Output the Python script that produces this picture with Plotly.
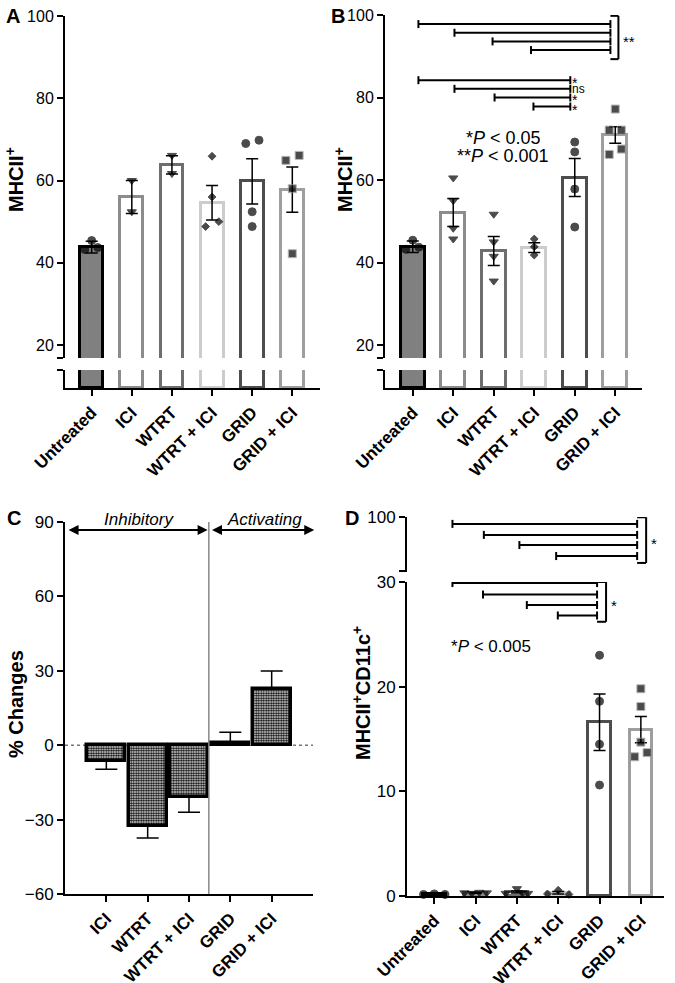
import plotly.graph_objects as go

W, H = 675, 983
FONT = "Liberation Sans, Arial, sans-serif"

groups = ["Untreated", "ICI", "WTRT", "WTRT + ICI", "GRID", "GRID + ICI"]
fills = ["#808080", "white", "white", "white", "white", "white"]
edges = ["#000000", "#8c8c8c", "#6e6e6e", "#cccccc", "#4d4d4d", "#9e9e9e"]
symbols = ["circle", "triangle-down", "triangle-down", "diamond", "circle", "square"]

# Panel A: MHCII+
a_mean = [43.8, 56.0, 63.8, 54.6, 59.8, 57.8]
a_sem = [1.4, 4.0, 2.2, 4.2, 5.5, 5.5]
a_points = [[45.4, 43.2, 43.7], [60.0, 52.4], [66.1, 61.7],
            [65.9, 56.0, 48.8, 50.0], [69.0, 69.8, 52.4, 48.8], [64.9, 66.1, 58.0, 42.2]]

# Panel B: MHCII+
b_mean = [43.8, 52.1, 42.8, 43.6, 60.6, 70.9]
b_sem = [1.4, 3.4, 3.5, 1.2, 4.6, 2.0]
b_points = [[45.4, 43.2, 43.7], [60.5, 55.0, 48.3, 45.7], [51.7, 45.0, 41.5, 35.5],
            [45.7, 43.8, 41.8], [69.2, 66.8, 57.8, 48.6], [77.2, 72.1, 72.1, 67.5, 66.2]]

# Panel C: % changes
c_groups = ["ICI", "WTRT", "WTRT + ICI", "GRID", "GRID + ICI"]
c_change = [-6.5, -32.6, -20.9, 1.0, 22.6]
c_err = [3.2, 4.8, 6.1, 4.2, 7.3]

# Panel D: MHCII+CD11c+
d_mean = [0.17, 0.3, 0.38, 0.3, 16.6, 15.9]
d_sem = [0.03, 0.03, 0.1, 0.12, 2.7, 1.25]
d_points = [[0.15, 0.2, 0.15], [0.3, 0.25, 0.35, 0.3], [0.25, 0.7, 0.3, 0.25],
            [0.2, 0.55, 0.15], [23.0, 18.6, 14.5, 10.6], [19.8, 18.1, 14.7, 13.7, 13.3]]

# horizontal spread of the dots inside each bar
a_jitter = [[0, -0.17, 0.15], [0, 0], [0, 0], [0, 0, -0.16, 0.17],
            [-0.16, 0.17, 0, 0], [-0.16, 0.17, 0, 0]]
b_jitter = [[0, -0.17, 0.15], [0, 0, 0, 0], [0, 0, 0, 0], [0, 0, 0],
            [0, 0, 0, 0], [0, -0.15, 0.15, 0.15, -0.15]]
d_jitter = [[-0.26, 0, 0.26], [-0.27, -0.09, 0.09, 0.27], [-0.27, 0, 0.13, 0.27],
            [-0.26, 0, 0.26], [0, 0, 0, 0], [0, 0, 0, 0.15, -0.15]]

# significance comparisons: line start x and level, shared end x
b_hi_start = [0.14, 1.03, 1.97, 2.92]
b_hi_level = [97.8, 95.7, 93.6, 91.5]
b_lo_start = [0.14, 1.03, 2.02, 2.98]
b_lo_level = [84.2, 82.1, 80.0, 77.8]
b_lo_labels = ["*", "ns", "*", "*"]
d_hi_start = [0.44, 1.2, 2.06, 2.95]
d_hi_level = [97.5, 93.5, 89.8, 85.8]
d_lo_start = [0.44, 1.18, 2.24, 2.99]
d_lo_level = [29.9, 28.8, 27.8, 26.8]

fig = go.Figure()


def dom_x(a, b):
    return [a / W, b / W]


def dom_y(top, bot):
    return [1 - bot / H, 1 - top / H]


def add_bars(xa, ya, means, sems, width, show_err=True):
    fig.add_trace(go.Bar(
        x=list(range(len(means))), y=means, width=width, xaxis=xa, yaxis=ya,
        marker=dict(color=fills, line=dict(color=edges, width=3)),
        error_y=dict(type="data", array=sems, visible=show_err, color="black",
                     thickness=1.5, width=6),
        showlegend=False, hoverinfo="skip"))


def add_dots(xa, ya, points, jitter):
    xs, ys, syms, sizes, lines = [], [], [], [], []
    size_of = {"circle": 8, "triangle-down": 8, "diamond": 6, "square": 8}
    for i, (pts, jit) in enumerate(zip(points, jitter)):
        for v, j in zip(pts, jit):
            xs.append(i + j)
            ys.append(v)
            syms.append(symbols[i])
            sizes.append(size_of[symbols[i]])
            lines.append("#999999" if symbols[i] == "square" else "black")
    fig.add_trace(go.Scatter(
        x=xs, y=ys, mode="markers", xaxis=xa, yaxis=ya, cliponaxis=False,
        marker=dict(symbol=syms, size=sizes, color="black", line=dict(color=lines, width=1)),
        showlegend=False, hoverinfo="skip"))


# A
add_bars("x", "y", a_mean, a_sem, 0.57)
add_bars("x", "y2", a_mean, a_sem, 0.57, show_err=False)
add_dots("x", "y", a_points, a_jitter)
# B
add_bars("x2", "y3", b_mean, b_sem, 0.59)
add_bars("x2", "y4", b_mean, b_sem, 0.59, show_err=False)
add_dots("x2", "y3", b_points, b_jitter)
# C
fig.add_trace(go.Bar(
    x=list(range(len(c_groups))), y=c_change, width=0.92, xaxis="x3", yaxis="y5",
    marker=dict(color="white", line=dict(color="black", width=3.5),
                pattern=dict(shape=".", size=2.5, solidity=0.65, fgcolor="black",
                             bgcolor="white", fillmode="replace")),
    error_y=dict(type="data", symmetric=False,
                 array=[e if v > 0 else 0 for v, e in zip(c_change, c_err)],
                 arrayminus=[e if v < 0 else 0 for v, e in zip(c_change, c_err)],
                 color="black", thickness=1.5, width=11),
    showlegend=False, hoverinfo="skip"))
# D
add_bars("x4", "y6", d_mean, d_sem, 0.55)
add_dots("x4", "y6", d_points, d_jitter)

tick_font = dict(family=FONT, size=16, color="black")
lab_font = dict(family=FONT, size=17, color="black", weight="bold")


def axis(**kw):
    d = dict(showline=True, linecolor="black", linewidth=2, ticks="outside", ticklen=6,
             tickwidth=2, tickcolor="black", showgrid=False, zeroline=False,
             tickfont=tick_font, fixedrange=True, automargin=False, ticklabeloverflow="allow")
    d.update(kw)
    return d


fig.update_layout(
    width=W, height=H, margin=dict(l=0, r=0, t=0, b=0, autoexpand=False),
    paper_bgcolor="white", plot_bgcolor="white", bargap=0,
    font=dict(family=FONT, color="black"),
    xaxis=axis(domain=dom_x(65, 320), range=[-0.665, 5.69], anchor="y2",
               tickvals=list(range(6)), ticktext=groups, tickangle=-45, tickfont=lab_font),
    yaxis=axis(domain=dom_y(16, 358), range=[16.84, 100], anchor="x",
               tickvals=[16.9, 20, 40, 60, 80, 100], ticktext=["", "20", "40", "60", "80", "100"]),
    yaxis2=axis(domain=dom_y(370, 388), range=[0, 4.37], anchor="x",
                tickvals=[4.3], ticktext=[""]),
    xaxis2=axis(domain=dom_x(385, 642), range=[-0.685, 5.66], anchor="y4",
                tickvals=list(range(6)), ticktext=groups, tickangle=-45, tickfont=lab_font),
    yaxis3=axis(domain=dom_y(15, 358), range=[16.85, 100], anchor="x2",
                tickvals=[16.9, 20, 40, 60, 80, 100], ticktext=["", "20", "40", "60", "80", "100"]),
    yaxis4=axis(domain=dom_y(370, 388), range=[0, 4.37], anchor="x2",
                tickvals=[4.3], ticktext=[""]),
    xaxis3=axis(domain=dom_x(65, 313), range=[-1, 5], anchor="y5",
                tickvals=list(range(5)), ticktext=c_groups, tickangle=-45, tickfont=lab_font),
    yaxis5=axis(domain=dom_y(522, 894), range=[-60, 90], anchor="x3",
                tickvals=[-60, -30, 0, 30, 60, 90], tickfont=dict(tick_font, size=17)),
    xaxis4=axis(domain=dom_x(407, 664), range=[-0.66, 5.56], anchor="y6",
                tickvals=list(range(6)), ticktext=groups, tickangle=-45, tickfont=lab_font),
    yaxis6=axis(domain=dom_y(582, 896), range=[0, 30], anchor="x4",
                tickvals=[0, 10, 20, 30], tickfont=dict(tick_font, size=17)),
    yaxis7=axis(domain=dom_y(517, 572), range=[80, 100], anchor="x4",
                tickvals=[80.4, 100], ticktext=["", "100"], tickfont=dict(tick_font, size=17)),
)

shapes = []
annots = []


def sig_group(xa, ya, starts, levels, end, span, tip_px, labels=None, group_label=None, label_y=None):
    for s, lv in zip(starts, levels):
        shapes.append(dict(type="line", xref=xa, yref=ya, x0=s, x1=end, y0=lv, y1=lv,
                           line=dict(color="black", width=2)))
        for xc in (s, end):
            shapes.append(dict(type="line", xref=xa, yref=ya, ysizemode="pixel", yanchor=lv,
                               x0=xc, x1=xc, y0=-4, y1=4, line=dict(color="black", width=2)))
    if labels:
        for lv, t in zip(levels, labels):
            annots.append(dict(xref=xa, yref=ya, x=end, y=lv, text=t, showarrow=False,
                               xanchor="left", yanchor="middle", xshift=1,
                               yshift=0 if t == "ns" else -3, borderpad=0,
                               font=dict(size=12 if t == "ns" else 14)))
    if span:
        shapes.append(dict(type="line", xref=xa, yref=ya, xsizemode="pixel", xanchor=end,
                           x0=tip_px, x1=tip_px, y0=span[0], y1=span[1],
                           line=dict(color="black", width=2)))
        for yv in span:
            shapes.append(dict(type="line", xref=xa, yref=ya, xsizemode="pixel", xanchor=end,
                               x0=0, x1=tip_px, y0=yv, y1=yv, line=dict(color="black", width=2)))
        annots.append(dict(xref=xa, yref=ya, x=end, y=label_y, text=group_label, showarrow=False,
                           xanchor="left", xshift=tip_px + 3, font=dict(size=15)))


sig_group("x2", "y3", b_hi_start, b_hi_level, 4.88, [89.3, 99.8], 8, group_label="**", label_y=93.6)
sig_group("x2", "y3", b_lo_start, b_lo_level, 3.89, None, 0, labels=b_lo_labels)
sig_group("x4", "y7", d_hi_start, d_hi_level, 4.91, [83.3, 99.9], 9, group_label="*", label_y=90.5)
sig_group("x4", "y6", d_lo_start, d_lo_level, 3.94, [26.2, 30.0], 9, group_label="*", label_y=27.8)

# panel C guides
shapes.append(dict(type="line", xref="x3", yref="y5", x0=-1, x1=5, y0=0, y1=0,
                   line=dict(color="#777777", width=1.5, dash="dot"), layer="below"))
shapes.append(dict(type="line", xref="x3", yref="y5", x0=2.48, x1=2.48, y0=-60, y1=90,
                   line=dict(color="#888888", width=1.5)))
for x0, x1 in [(-0.95, 2.45), (2.52, 5.03)]:
    annots.append(dict(xref="x3", yref="y5", axref="x3", ayref="y5", x=x1, y=86.8, ax=x0, ay=86.8,
                       text="", showarrow=True, arrowhead=2, arrowside="end+start",
                       arrowwidth=2, arrowsize=1, arrowcolor="black"))
annots.append(dict(xref="x3", yref="y5", x=0.8, y=89.9, yshift=3, text="<i>Inhibitory</i>",
                   showarrow=False, font=dict(size=17)))
annots.append(dict(xref="x3", yref="y5", x=3.83, y=89.9, yshift=3, text="<i>Activating</i>",
                   showarrow=False, font=dict(size=17)))

# p-value notes
annots.append(dict(xref="x2", yref="y3", x=2.23, y=70.2, text="*<i>P</i> &lt; 0.05",
                   showarrow=False, font=dict(size=18)))
annots.append(dict(xref="x2", yref="y3", x=2.23, y=65.8, text="**<i>P</i> &lt; 0.001",
                   showarrow=False, font=dict(size=18)))
annots.append(dict(xref="x4", yref="y6", x=1.37, y=23.8, text="*<i>P</i> &lt; 0.005",
                   showarrow=False, font=dict(size=17)))

# axis titles and panel letters
for px, py, t in [(14, 180, "MHCII<sup>+</sup>"), (343, 180, "MHCII<sup>+</sup>"),
                  (16, 704, "% Changes"), (361, 693, "MHCII<sup>+</sup>CD11c<sup>+</sup>")]:
    annots.append(dict(xref="paper", yref="paper", x=px / W, y=1 - py / H, text=t, textangle=-90,
                       xanchor="center", yanchor="middle", showarrow=False,
                       font=dict(size=20, weight="bold")))
for px, py, t in [(13, 16, "A"), (338, 16, "B"), (14, 518, "C"), (352, 518, "D")]:
    annots.append(dict(xref="paper", yref="paper", x=px / W, y=1 - py / H, text=t,
                       xanchor="center", yanchor="middle", showarrow=False,
                       font=dict(size=20, weight="bold")))

fig.update_layout(shapes=shapes, annotations=annots)
fig.write_html("out.html", config={"displayModeBar": False},
               post_script="document.body.style.margin='0';")
